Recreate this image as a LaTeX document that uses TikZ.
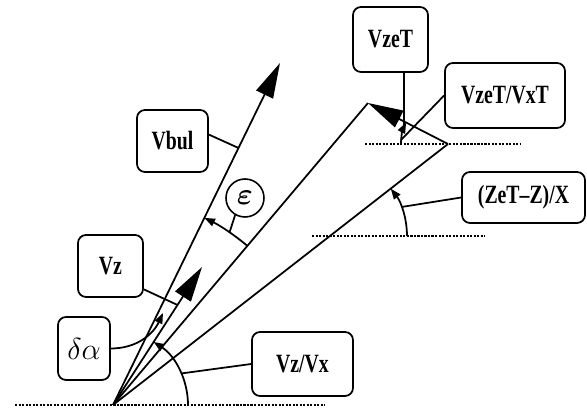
\documentclass[tikz,border=0pt]{standalone}
\usepackage{amsmath}
\usepackage{fontspec}
\usetikzlibrary{arrows.meta}
\newfontfamily\lblfont{Liberation Serif}[FakeStretch=0.75]
\pgfdeclarelayer{edgelayer}
\pgfdeclarelayer{nodelayer}
\pgfsetlayers{edgelayer,nodelayer,main}
\tikzstyle{none}=[inner sep=0pt]
\tikzstyle{tag box}=[rectangle,rounded corners=0.16cm,fill=white,draw=black,line width=1pt,font=\lblfont\bfseries\fontsize{15}{15}\selectfont]
\tikzstyle{tag ring}=[circle,fill=white,draw=black,line width=0.9pt,minimum size=0.76cm,inner sep=0pt]
\tikzstyle{simple}=[-,draw=black,line width=1pt]
\tikzstyle{velocity}=[-{Triangle[length=20pt,width=10.5pt]},draw=black,line width=1pt]
\tikzstyle{sweep}=[-{Triangle[length=6pt,width=4.5pt]},draw=black,line width=1pt]
\tikzstyle{horizon}=[-,draw=black,line width=0.9pt,dash pattern=on 1.2pt off 0.8pt]

\begin{document}
\begin{tikzpicture}
	\useasboundingbox (0, 0) rectangle (11.74, 8.2);
	\begin{pgfonlayer}{nodelayer}
		\node [style=none] (0) at (2.26, 0.1) {};
		\node [style=none] (1) at (0.3, 0.1) {};
		\node [style=none] (2) at (6.5, 0.1) {};
		\node [style=none] (3) at (5.6, 6.94) {};
		\node [style=none] (4) at (4.04, 2.86) {};
		\node [style=none] (5) at (7.36, 6.14) {};
		\node [style=none] (6) at (8.96, 5.32) {};
		\node [style=none] (7) at (7.3, 5.32) {};
		\node [style=none] (8) at (10.4, 5.32) {};
		\node [style=none] (9) at (6.24, 3.48) {};
		\node [style=none] (10) at (9.7, 3.48) {};
		\node [style=none] (11) at (3.76, 0.1) {};
		\node [style=none] (12) at (4.95, 3.28) {};
		\node [style=none] (13) at (8.14, 3.48) {};
		\node [style=none] (14) at (8.02, 5.32) {};
		\node [style=tag box, minimum width=1.42cm, minimum height=1.24cm] (15) at (3.45, 5.38) {Vbul};
		\node [style=tag box, minimum width=1.3cm, minimum height=1.24cm] (16) at (2.21, 2.88) {Vz};
		\node [style=tag box, minimum width=1.04cm, minimum height=1.26cm, font=\fontsize{16}{16}\selectfont] (17) at (1.68, 1.23) {$\delta\alpha$};
		\node [style=tag box, minimum width=2.02cm, minimum height=1.28cm] (18) at (6.05, 0.92) {Vz/Vx};
		\node [style=tag box, minimum width=2.46cm, minimum height=1.02cm] (19) at (10.47, 4.25) {(ZeT–Z)/X};
		\node [style=tag box, minimum width=2.4cm, minimum height=1.3cm] (20) at (10.1, 6.29) {VzeT/VxT};
		\node [style=tag box, minimum width=1.5cm, minimum height=1.3cm] (21) at (7.81, 7.41) {VzeT};
		\node [style=tag ring, font=\fontsize{17}{17}\selectfont] (22) at (4.9, 4.24) {$\boldsymbol{\varepsilon}$};
		\node [style=none] (23) at (4.77, 5.24) {};
		\node [style=none] (24) at (4.59, 3.55) {};
		\node [style=none] (25) at (3.55, 2.1) {};
		\node [style=none] (26) at (3.26, 1.94) {};
		\node [style=none] (27) at (3.62, 0.73) {};
		\node [style=none] (28) at (8.03, 4.06) {};
		\node [style=none] (29) at (8.02, 5.4) {};
		\node [style=none] (30) at (8.08, 6.76) {};
		\node [style=none] (31) at (8.08, 5.64) {};
	\end{pgfonlayer}
	\begin{pgfonlayer}{edgelayer}
		\draw [style=horizon] (1.center) to (2.center);
		\draw [style=horizon] (7.center) to (8.center);
		\draw [style=horizon] (9.center) to (10.center);
		\draw [style=velocity] (0.center) to (3.center);
		\draw [style=velocity] (0.center) to (4.center);
		\draw [style=simple] (0.center) to (5.center);
		\draw [style=simple] (0.center) to (6.center);
		\draw [style=velocity] (6.center) to (5.center);
		\draw [style=sweep] (11.center) arc [start angle=0, end angle=57.2, radius=1.5];
		\draw [style=sweep] (12.center) arc [start angle=49.8, end angle=64, radius=4.16];
		\draw [style=sweep] (13.center) arc [start angle=0, end angle=37.9, radius=1.54];
		\draw [style=sweep] (14.center) arc [start angle=180, end angle=153, radius=0.94];
		\draw [style=simple] (15.10) to (23.center);
		\draw [style=simple] (22.240) to (24.center);
		\draw [style=simple] (16.-35) to (25.center);
		\draw [style=sweep, out=0, in=-115] (17.east) to (26.center);
		\draw [style=simple] (18.west) to (27.center);
		\draw [style=simple] (19.west) to (28.center);
		\draw [style=simple] (20.west) to (29.center);
		\draw [style=simple] (30.center) to (31.center);
	\end{pgfonlayer}
\end{tikzpicture}
\end{document}
